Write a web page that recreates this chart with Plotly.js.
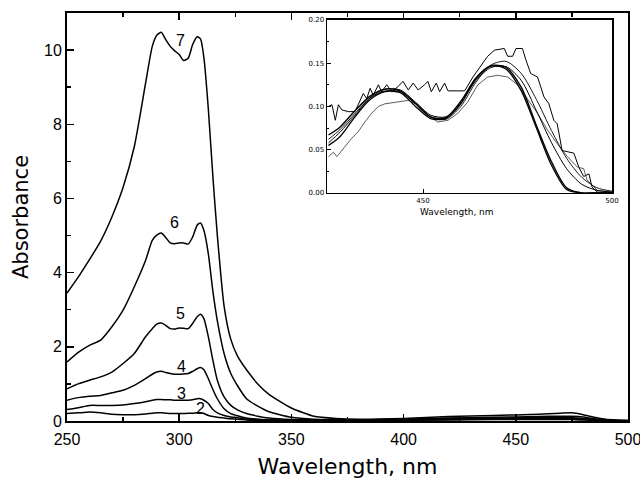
<!DOCTYPE html>
<html><head><meta charset="utf-8">
<script src="https://cdn.plot.ly/plotly-3.0.1.min.js"></script>
<style>body{margin:0;background:#fff}#plot{width:640px;height:480px}</style>
</head><body><div id="plot"></div>
<script>
// ---- main spectra (Absorbance vs wavelength, nm) ----
const wl = [250,255,260,265,270,275,280,285,288,290,292,294,296,298,300,302,304,306,308,309.5,311,313,315,317,320,323,326,330,335,340,350,360,370,380,400,420,440,460,470,475,480,485,490,495,500];
const s7 = [3.45,3.88,4.35,4.85,5.5,6.3,7.4,9.1,10.1,10.4,10.48,10.28,10.1,9.98,9.88,9.72,9.78,10.15,10.36,10.3,9.8,8.4,6.6,5.0,3.1,2.2,1.75,1.38,1.0,0.72,0.35,0.13,0.07,0.05,0.07,0.12,0.15,0.18,0.21,0.22,0.17,0.1,0.05,0.03,0.02];
const s6 = [1.59,1.85,2.04,2.18,2.54,2.99,3.62,4.33,4.87,5.01,5.07,4.95,4.8,4.78,4.8,4.8,4.77,4.96,5.28,5.34,5.14,4.5,3.5,2.7,1.82,1.28,0.95,0.6,0.4,0.25,0.1,0.05,0.04,0.03,0.04,0.08,0.1,0.12,0.13,0.13,0.11,0.06,0.03,0.02,0.01];
const s5 = [0.87,1.0,1.1,1.19,1.32,1.55,1.82,2.27,2.49,2.61,2.64,2.58,2.49,2.48,2.51,2.5,2.49,2.63,2.81,2.88,2.76,2.27,1.64,1.1,0.65,0.42,0.3,0.2,0.13,0.08,0.04,0.03,0.03,0.03,0.05,0.07,0.08,0.09,0.09,0.09,0.07,0.04,0.02,0.01,0.01];
const s4 = [0.56,0.63,0.67,0.69,0.76,0.83,0.96,1.14,1.26,1.32,1.34,1.31,1.28,1.26,1.26,1.27,1.28,1.34,1.41,1.44,1.38,1.14,0.85,0.6,0.33,0.2,0.14,0.08,0.05,0.03,0.02,0.02,0.02,0.02,0.03,0.05,0.06,0.07,0.07,0.07,0.05,0.03,0.02,0.01,0.01];
const s3 = [0.31,0.36,0.42,0.42,0.42,0.43,0.47,0.52,0.56,0.58,0.58,0.57,0.57,0.56,0.56,0.56,0.56,0.57,0.6,0.6,0.56,0.47,0.31,0.22,0.15,0.11,0.09,0.05,0.04,0.03,0.02,0.02,0.02,0.02,0.02,0.04,0.05,0.05,0.05,0.05,0.04,0.02,0.01,0.01,0.01];
const s2 = [0.2,0.22,0.24,0.22,0.18,0.17,0.17,0.19,0.21,0.22,0.22,0.21,0.2,0.2,0.2,0.2,0.21,0.21,0.22,0.22,0.2,0.15,0.12,0.1,0.08,0.06,0.05,0.03,0.02,0.02,0.01,0.01,0.01,0.01,0.02,0.03,0.04,0.04,0.04,0.04,0.03,0.02,0.01,0.01,0.01];
const mainSeries = [s2,s3,s4,s5,s6,s7];
const curveLabels = ['2','3','4','5','6','7'];
const labelX = [309.3,301.2,301.2,300.4,298.1,300.4];
const labelY = [0.35,0.75,1.46,2.91,5.36,10.27];

// ---- inset (normalised, 425-500 nm) ----
const n1x = [425,425.9,426.8,427.6,428.5,430.3,432,432.9,434.2,435.1,436,436.8,438.2,439,440.4,441.7,443.4,444.7,446.1,447.4,448.7,450.4,451.3,452.2,453.5,454.4,455.7,456.6,461,463.2,465.4,467.1,468.9,471.5,472.4,473.7,474.6,476.3,477.2,478.5,480.3,482,483.3,484.6,485.5,486.8,489.9,491.2,492.5,493.9,494.7,496.1,500];
const n1y = [0.1,0.102,0.084,0.102,0.096,0.094,0.094,0.103,0.115,0.109,0.121,0.113,0.125,0.117,0.125,0.117,0.123,0.129,0.119,0.127,0.119,0.125,0.129,0.117,0.127,0.117,0.127,0.118,0.118,0.134,0.148,0.158,0.165,0.167,0.158,0.158,0.167,0.167,0.154,0.138,0.134,0.111,0.103,0.084,0.08,0.049,0.046,0.03,0.019,0.022,0.007,0.001,0];
const n2x = [425,426.3,427.2,428.5,429.8,431.1,432.9,434.6,436.4,438.2,439.9,442.5,446.1,448.7,451.3,453.9,456.6,459.2,461.8,464.5,467.1,469.7,472.4,475,477.6,480.3,482.9,485.5,488.2,490.8,492.5,493.4,496.1,500];
const n2y = [0.042,0.047,0.042,0.049,0.057,0.063,0.071,0.082,0.092,0.1,0.103,0.105,0.107,0.102,0.09,0.082,0.084,0.092,0.105,0.125,0.134,0.136,0.134,0.125,0.109,0.092,0.073,0.057,0.042,0.03,0.028,0.015,0.003,0.001];
const ix = [425,428,432,436,440,444,448,452,456,460,464,468,472,476,480,484,488,492,496,500];
const iA = [0.067,0.076,0.095,0.112,0.12,0.118,0.103,0.088,0.087,0.106,0.133,0.147,0.145,0.122,0.078,0.036,0.006,0,0,0];
const iB = [0.058,0.07,0.09,0.11,0.12,0.119,0.105,0.09,0.088,0.104,0.13,0.145,0.146,0.13,0.095,0.058,0.028,0.01,0.003,0.001];
const iC = [0.062,0.073,0.092,0.11,0.118,0.117,0.104,0.088,0.085,0.1,0.128,0.148,0.152,0.138,0.108,0.072,0.04,0.018,0.006,0.002];
const iD = [0.055,0.065,0.088,0.108,0.117,0.116,0.1,0.086,0.086,0.103,0.132,0.147,0.143,0.118,0.075,0.032,0.004,0,0,0];

const traces = [];
mainSeries.forEach(s => traces.push({x: wl, y: s, mode: 'lines', line: {color: '#000', width: 1.5, shape: 'spline', smoothing: 0.6}, xaxis: 'x', yaxis: 'y', hoverinfo: 'skip'}));
traces.push({x: n1x, y: n1y, mode: 'lines', line: {color: '#000', width: 1}, xaxis: 'x2', yaxis: 'y2'});
traces.push({x: n2x, y: n2y, mode: 'lines', line: {color: '#333', width: 0.8}, xaxis: 'x2', yaxis: 'y2'});
[[iA,1.4],[iB,1],[iC,0.9],[iD,1.3]].forEach(([s,w]) => traces.push({x: ix, y: s, mode: 'lines', line: {color: '#000', width: w, shape: 'spline', smoothing: 0.8}, xaxis: 'x2', yaxis: 'y2'}));

const pw = 640 - 67 - 12, ph = 480 - 13 - 59;
const annotations = curveLabels.map((t,i) => ({x: labelX[i], y: labelY[i], xref: 'x', yref: 'y', text: t, showarrow: false, font: {family: 'Liberation Sans, Arial, sans-serif', size: 16, color: '#000'}}));
annotations.push({x: (457 - 67) / pw, y: (421 - 212) / ph, xref: 'paper', yref: 'paper', xanchor: 'center', yanchor: 'middle',
  text: 'Wavelength, nm', showarrow: false, font: {family: 'DejaVu Sans, sans-serif', size: 9, color: '#000'}});

const tickF = {family: 'Liberation Sans, Arial, sans-serif', size: 16, color: '#000'};
const layout = {
  width: 640, height: 480,
  margin: {l: 67, r: 12, t: 13, b: 59},
  paper_bgcolor: '#fff', plot_bgcolor: '#fff',
  showlegend: false,
  font: {family: 'DejaVu Sans, sans-serif', size: 14, color: '#000'},
  xaxis: {range: [250, 500], dtick: 50, tick0: 250, ticks: 'inside', ticklen: 7, tickwidth: 1.5, tickcolor: '#000',
          minor: {dtick: 25, ticks: 'inside', ticklen: 4, tickcolor: '#000'},
          showline: true, linewidth: 2, linecolor: '#000', mirror: 'ticks', showgrid: false, zeroline: false,
          tickfont: tickF, ticklabeloverflow: 'allow', ticklabelstandoff: 3,
          title: {text: 'Wavelength, nm', font: {family: 'DejaVu Sans, sans-serif', size: 22}, standoff: 11}},
  yaxis: {range: [0, 11], dtick: 2, tick0: 0, ticks: 'inside', ticklen: 7, tickwidth: 1.5, tickcolor: '#000',
          minor: {dtick: 1, ticks: 'inside', ticklen: 4, tickcolor: '#000'},
          showline: true, linewidth: 2, linecolor: '#000', mirror: true, showgrid: false, zeroline: false,
          tickfont: tickF, ticklabeloverflow: 'allow',
          title: {text: 'Absorbance', font: {family: 'DejaVu Sans, sans-serif', size: 21}, standoff: 10}},
  xaxis2: {domain: [0.4635, 0.9715], anchor: 'y2', range: [424.6, 500], tickvals: [450, 500], ticks: 'inside', ticklen: 4, tickcolor: '#000',
           showline: true, linewidth: 1.5, linecolor: '#000', mirror: true, showgrid: false, zeroline: false,
           tickfont: {family: 'DejaVu Sans, sans-serif', size: 7}, ticklabeloverflow: 'allow'},
  yaxis2: {domain: [0.559, 0.983], anchor: 'x2', range: [0, 0.2], dtick: 0.05, tickformat: '.2f', ticks: 'inside', ticklen: 4, tickcolor: '#000',
           minor: {dtick: 0.025, ticks: 'inside', ticklen: 2, tickcolor: '#000'},
           showline: true, linewidth: 1.5, linecolor: '#000', mirror: true, showgrid: false, zeroline: false,
           tickfont: {family: 'DejaVu Sans, sans-serif', size: 7}},
  annotations: annotations
};
Plotly.newPlot('plot', traces, layout, {staticPlot: true, displayModeBar: false});
</script></body></html>
